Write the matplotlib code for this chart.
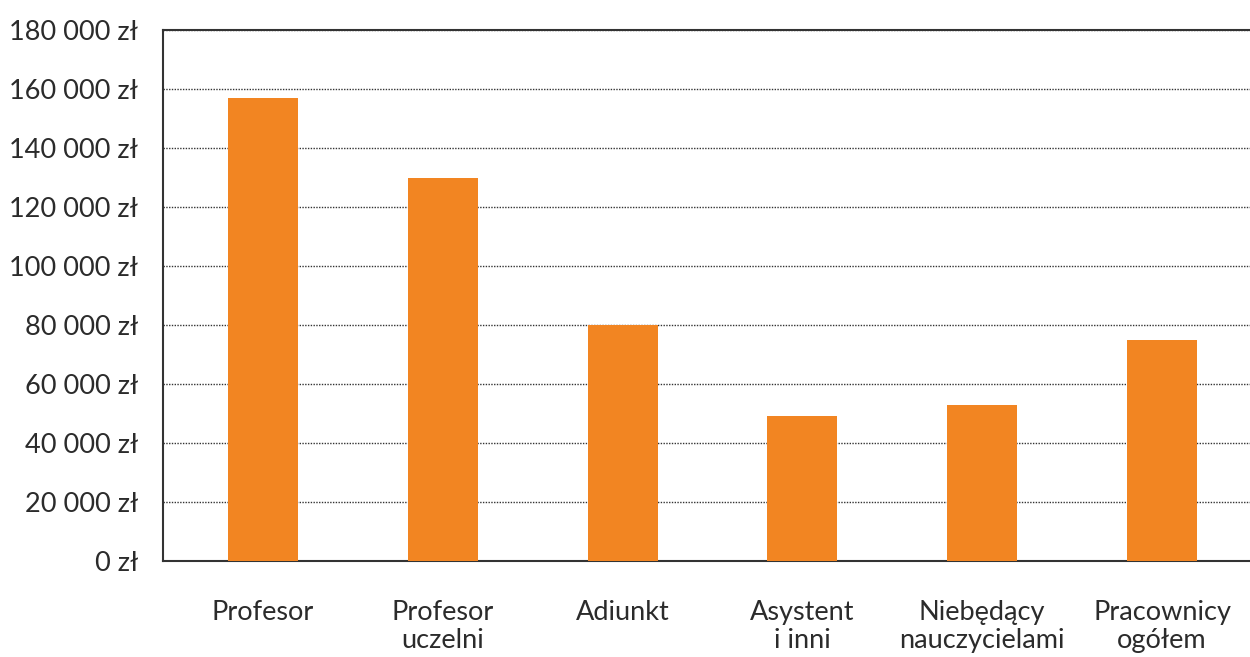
import matplotlib
matplotlib.use("Agg")
import matplotlib.pyplot as plt
from matplotlib.ticker import FuncFormatter, MultipleLocator

categories = ["Profesor", "Profesor\nuczelni", "Adiunkt", "Asystent\ni inni",
              "Niebędący\nnauczycielami", "Pracownicy\nogółem"]
values = [157000, 130000, 80000, 49000, 53000, 75000]

plt.rcParams['font.family'] = ['Lato', 'DejaVu Sans']

W, H = 1250, 657
fig = plt.figure(figsize=(W / 100, H / 100), dpi=100)
# the plot area runs past the right edge of the picture, as in the original
ax = fig.add_axes([163 / W, 1 - 561 / H, (1262 - 163) / W, (561 - 30) / H])

x = list(range(len(categories)))
ax.bar(x, values, width=0.39, color='#F28522', zorder=3)

ax.set_ylim(0, 180000)
ax.set_xlim(-0.556, len(categories) - 1 + 0.556)
ax.yaxis.set_major_locator(MultipleLocator(20000))
ax.yaxis.set_major_formatter(FuncFormatter(lambda v, p: f"{int(v):,}".replace(",", " ") + " zł"))
ax.grid(axis='y', linestyle=(0, (1, 1)), color='#333333', linewidth=1.0, zorder=0)

ax.set_xticks(x)
ax.set_xticklabels(categories, linespacing=1.15)
ax.tick_params(axis='both', length=0, labelsize=19.5, colors='#2b2b2b')
ax.tick_params(axis='x', pad=28)
ax.tick_params(axis='y', pad=18)

for s in ['left', 'top', 'bottom']:
    ax.spines[s].set_color('#333333')
    ax.spines[s].set_linewidth(1.5)
ax.spines['right'].set_visible(False)

fig.savefig("out.png", dpi=100)
